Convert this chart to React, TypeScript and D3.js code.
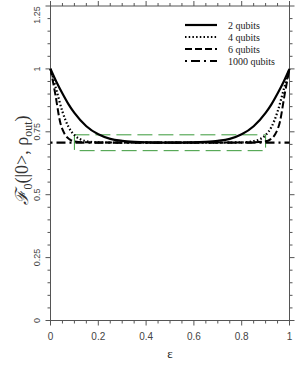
import React, { useEffect, useRef } from 'react'
import * as d3 from 'd3'

// readings taken off the figure (epsilon vs fidelity)
const eps2 = [0, 0.025, 0.05, 0.075, 0.1, 0.15, 0.2, 0.25, 0.3, 0.35, 0.4, 0.5, 0.6, 0.65, 0.7, 0.75, 0.8, 0.85, 0.9, 0.925, 0.95, 0.975, 1]
const fid2 = [1.0, 0.948, 0.902, 0.86, 0.825, 0.772, 0.74, 0.722, 0.714, 0.71, 0.708, 0.707, 0.708, 0.71, 0.714, 0.722, 0.74, 0.772, 0.825, 0.86, 0.902, 0.948, 1.0]

const eps4 = [0, 0.025, 0.05, 0.075, 0.1, 0.125, 0.15, 0.2, 0.3, 0.5, 0.7, 0.8, 0.85, 0.875, 0.9, 0.925, 0.95, 0.975, 1]
const fid4 = [1.0, 0.915, 0.83, 0.77, 0.737, 0.72, 0.713, 0.708, 0.707, 0.707, 0.707, 0.708, 0.713, 0.72, 0.737, 0.77, 0.83, 0.915, 1.0]

const eps6 = [0, 0.02, 0.04, 0.06, 0.08, 0.1, 0.15, 0.2, 0.5, 0.8, 0.85, 0.9, 0.92, 0.94, 0.96, 0.98, 1]
const fid6 = [1.0, 0.9, 0.79, 0.74, 0.72, 0.712, 0.708, 0.707, 0.707, 0.707, 0.708, 0.712, 0.72, 0.74, 0.79, 0.9, 1.0]

const eps1000 = [0, 0.5, 1]
const fid1000 = [0.7071, 0.7071, 0.7071]

// green marker box (epsilon range, fidelity range)
const boxEps = [0.1, 0.9]
const boxFid = [0.675, 0.738]

const legendLabels = ['2 qubits', '4 qubits', '6 qubits', '1000 qubits']
const xTickLabels = [0, 0.2, 0.4, 0.6, 0.8, 1]
const yTickLabels = [0, 0.25, 0.5, 0.75, 1, 1.25]

export default function App() {
  const ref = useRef<SVGSVGElement>(null)

  useEffect(() => {
    const svg = d3.select(ref.current)
    svg.selectAll('*').remove()

    const left = 50.5, right = 289.5, top = 6, bottom = 320.5
    const x = d3.scaleLinear().domain([0, 1]).range([left, right])
    const y = d3.scaleLinear().domain([0, 1.25]).range([bottom, top])
    const axisColor = '#555'

    // frame
    svg.append('rect')
      .attr('x', left).attr('y', top)
      .attr('width', right - left).attr('height', bottom - top)
      .attr('fill', 'none').attr('stroke', axisColor).attr('stroke-width', 1)

    // ticks, outward on all four sides
    const xt = d3.range(0, 1.0001, 0.05)
    const yt = d3.range(0, 1.2501, 0.05)
    const isMajX = (v: number) => Math.abs(v * 5 - Math.round(v * 5)) < 1e-6
    const isMajY = (v: number) => Math.abs(v * 4 - Math.round(v * 4)) < 1e-6
    const tk = svg.append('g').attr('stroke', axisColor).attr('stroke-width', 1)
    xt.forEach(v => {
      const len = isMajX(v) ? 5 : 3
      tk.append('line').attr('x1', x(v)).attr('x2', x(v)).attr('y1', bottom).attr('y2', bottom + len)
      tk.append('line').attr('x1', x(v)).attr('x2', x(v)).attr('y1', top).attr('y2', top - len)
    })
    yt.forEach(v => {
      const len = isMajY(v) ? 5 : 3
      tk.append('line').attr('x1', left).attr('x2', left - len).attr('y1', y(v)).attr('y2', y(v))
      tk.append('line').attr('x1', right).attr('x2', right + len).attr('y1', y(v)).attr('y2', y(v))
    })

    // tick labels
    svg.append('g').selectAll('text').data(xTickLabels).enter().append('text')
      .attr('x', d => x(d)).attr('y', 340)
      .attr('text-anchor', 'middle')
      .attr('font-family', 'Liberation Sans').attr('font-size', 10).attr('fill', '#444')
      .text(d => String(d))
    svg.append('g').selectAll('text').data(yTickLabels).enter().append('text')
      .attr('transform', d => `translate(40,${Math.max(y(d), 15)}) rotate(-90)`)
      .attr('text-anchor', 'middle')
      .attr('font-family', 'Liberation Sans').attr('font-size', 9).attr('fill', '#444')
      .text(d => String(d))

    // axis titles
    svg.append('text')
      .attr('x', 170).attr('y', 358)
      .attr('text-anchor', 'middle')
      .attr('font-family', 'Liberation Serif').attr('font-size', 13).attr('fill', '#222')
      .text('ε')

    const yt2 = svg.append('text')
      .attr('transform', 'translate(28,160) rotate(-90)')
      .attr('text-anchor', 'middle')
      .attr('font-family', 'Liberation Serif').attr('font-size', 18).attr('fill', '#333')
    yt2.append('tspan').attr('font-style', 'italic').text('ℱ')
    yt2.append('tspan').attr('font-size', 12).attr('dy', 4).text('0')
    yt2.append('tspan').attr('dy', -4).text('(|0>, ρ')
    yt2.append('tspan').attr('font-size', 12).attr('dy', 4).text('out')
    yt2.append('tspan').attr('dy', -4).text(')')

    // green box
    svg.append('rect')
      .attr('x', x(boxEps[0])).attr('y', y(boxFid[1]))
      .attr('width', x(boxEps[1]) - x(boxEps[0]))
      .attr('height', y(boxFid[0]) - y(boxFid[1]))
      .attr('fill', 'none').attr('stroke', '#3a9a3a').attr('stroke-width', 1)
      .attr('stroke-dasharray', '15,6')

    const line = d3.line<[number, number]>()
      .x(d => x(d[0])).y(d => y(d[1]))
      .curve(d3.curveMonotoneX)

    const series = [
      { e: eps2, f: fid2, dash: null as string | null, w: 2.2 },
      { e: eps4, f: fid4, dash: '1.5,2.2', w: 2.2 },
      { e: eps6, f: fid6, dash: '7,3', w: 2 },
      { e: eps1000, f: fid1000, dash: '2,4,9,4', w: 2.2 },
    ]
    series.forEach(s => {
      const p = svg.append('path')
        .attr('d', line(s.e.map((v, i) => [v, s.f[i]] as [number, number])))
        .attr('fill', 'none').attr('stroke', '#000').attr('stroke-width', s.w)
      if (s.dash) p.attr('stroke-dasharray', s.dash)
    })

    // legend
    const lg = svg.append('g')
    legendLabels.forEach((lab, i) => {
      const ly = 25 + i * 12
      const s = series[i]
      const l = lg.append('line')
        .attr('x1', 185).attr('x2', 217).attr('y1', ly).attr('y2', ly)
        .attr('stroke', '#000').attr('stroke-width', s.w)
      if (s.dash) l.attr('stroke-dasharray', s.dash)
      lg.append('text')
        .attr('x', 228).attr('y', ly + 3.5)
        .attr('font-family', 'Liberation Serif').attr('font-size', 10).attr('fill', '#222')
        .text(lab)
    })
  }, [])

  return (
    <svg ref={ref} width={297} height={371}
      style={{ position: 'absolute', left: 0, top: 0, background: '#fff' }} />
  )
}
